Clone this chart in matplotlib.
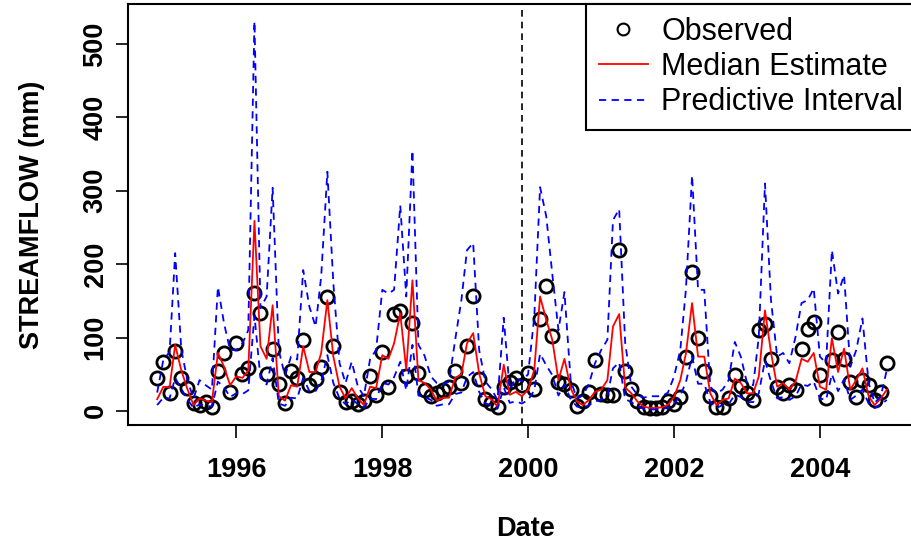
import numpy as np
import pandas as pd
import matplotlib
matplotlib.use("Agg")
import matplotlib.pyplot as plt
import matplotlib.dates as mdates
from matplotlib.lines import Line2D

plt.rcParams['font.family'] = ['Liberation Sans', 'DejaVu Sans']

# ---------------- data (monthly, Dec 1994 - Dec 2004) ----------------
start_month = "1994-12-01"
split_date = "1999-12-01"

observed = [45, 67, 25, 82, 45, 31, 11, 8, 12, 5, 55, 79, 26, 92, 50, 58, 161, 134, 50, 84,
            36, 11, 55, 45, 96, 35, 44, 60, 155, 88, 26, 12, 14, 10, 14, 48, 22, 80, 32, 132,
            136, 48, 120, 51, 29, 21, 24, 28, 33, 54, 38, 88, 156, 44, 16, 11, 5, 32, 40, 45,
            35, 51, 30, 125, 170, 102, 40, 37, 28, 7, 14, 26, 70, 23, 22, 22, 219, 55, 30, 14,
            5, 4, 4, 5, 13, 10, 19, 74, 190, 100, 54, 20, 5, 6, 18, 49, 34, 24, 15, 110,
            119, 71, 33, 24, 35, 29, 85, 111, 121, 49, 18, 70, 107, 71, 40, 19, 42, 35, 15, 26,
            65]

median = [16, 33, 32, 90, 55, 30, 8, 17, 14, 12, 79, 60, 35, 47, 45, 55, 259, 88, 71, 144,
          20, 14, 35, 33, 88, 53, 53, 79, 151, 74, 33, 17, 31, 17, 8, 33, 31, 76, 71, 92,
          133, 56, 178, 42, 38, 29, 14, 18, 18, 45, 50, 92, 106, 51, 20, 16, 6, 63, 22, 26,
          20, 29, 56, 156, 124, 97, 42, 71, 31, 13, 8, 15, 26, 29, 42, 115, 132, 32, 24, 13,
          6, 4, 4, 5, 8, 19, 42, 78, 147, 74, 74, 24, 8, 15, 17, 44, 38, 24, 24, 47,
          137, 80, 33, 38, 29, 40, 71, 67, 79, 33, 29, 99, 53, 85, 29, 42, 58, 20, 8, 17,
          29]

upper = [25, 70, 80, 215, 83, 42, 17, 42, 35, 29, 169, 119, 83, 83, 92, 110, 531, 140, 156, 304,
         82, 48, 74, 70, 192, 142, 115, 183, 326, 174, 65, 38, 67, 33, 20, 71, 83, 165, 160, 165,
         280, 156, 355, 90, 75, 47, 38, 36, 40, 97, 151, 219, 229, 83, 40, 30, 15, 127, 29, 45,
         40, 50, 128, 305, 265, 187, 110, 162, 42, 17, 21, 37, 65, 83, 97, 260, 275, 93, 33, 22,
         18, 20, 20, 20, 25, 47, 83, 165, 321, 165, 165, 33, 24, 29, 42, 94, 74, 38, 35, 101,
         310, 151, 74, 79, 65, 101, 147, 151, 167, 74, 65, 219, 160, 185, 60, 83, 126, 38, 11, 20,
         56]

lower = [8, 18, 17, 45, 30, 16, 4, 9, 7, 6, 40, 32, 19, 24, 23, 28, 130, 45, 36, 72,
         10, 7, 18, 17, 45, 27, 27, 40, 76, 38, 17, 9, 16, 9, 4, 17, 16, 38, 36, 46,
         67, 28, 90, 21, 19, 15, 7, 9, 9, 23, 25, 46, 53, 26, 10, 8, 3, 32, 11, 13,
         10, 15, 28, 78, 62, 49, 21, 36, 16, 6, 4, 8, 13, 15, 21, 58, 66, 16, 12, 6,
         3, 2, 2, 3, 4, 10, 21, 39, 74, 37, 37, 12, 4, 8, 9, 22, 19, 12, 12, 24,
         69, 40, 17, 19, 15, 20, 36, 34, 40, 17, 15, 50, 27, 43, 15, 21, 29, 10, 4, 9,
         15]

tick_years = [1996, 1998, 2000, 2002, 2004]
y_ticks = [0, 100, 200, 300, 400, 500]

# ---------------- plot ----------------
dates = pd.date_range(start_month, periods=len(observed), freq="MS")
xd = mdates.date2num(dates.to_pydatetime())

W, H = 912, 544
fig = plt.figure(figsize=(W / 100, H / 100), dpi=100)
ax = fig.add_axes([128 / W, 1 - 425 / H, 788 / W, 421 / H])

ax.plot(xd, observed, linestyle="none", marker="o", markersize=9.5,
        markerfacecolor="none", markeredgecolor="black", markeredgewidth=2.0, zorder=2)
ax.plot(xd, median, color="red", linewidth=1.3, zorder=3)
ax.plot(xd, upper, color="blue", linewidth=1.3, linestyle=(0, (4, 3)), zorder=4)
ax.plot(xd, lower, color="blue", linewidth=1.3, linestyle=(0, (4, 3)), zorder=4)

ax.axvline(mdates.date2num(pd.Timestamp(split_date).to_pydatetime()), color="black",
           linewidth=1.2, linestyle=(0, (4, 3)), zorder=1)

rng = xd.max() - xd.min()
ax.set_xlim(xd.min() - 0.04 * rng, xd.max() + 0.04 * rng)
ax.set_ylim(-19.2, 554.6)

ax.set_xticks([mdates.date2num(pd.Timestamp(f"{y}-01-01").to_pydatetime()) for y in tick_years])
ax.set_xticklabels([str(y) for y in tick_years])
ax.set_yticks(y_ticks)
ax.set_yticklabels([str(v) for v in y_ticks], rotation=90, va="center")

ax.tick_params(axis="both", length=9, width=1.2, labelsize=19.5, color="black")
ax.tick_params(axis="x", pad=14)
ax.tick_params(axis="y", pad=5)
for lab in ax.get_xticklabels() + ax.get_yticklabels():
    lab.set_fontweight("bold")

for side in ["left", "bottom", "top", "right"]:
    ax.spines[side].set_linewidth(1.5)

ax.set_xlabel("Date", fontsize=19.5, fontweight="bold")
ax.set_ylabel("STREAMFLOW (mm)", fontsize=19.5, fontweight="bold")
ax.xaxis.set_label_coords((525 - 128) / 788, (425 - 516) / 421)
ax.yaxis.set_label_coords((45 - 128) / 788, 0.5)

handles = [
    Line2D([], [], linestyle="none", marker="o", markersize=8.5, markerfacecolor="none",
           markeredgecolor="black", markeredgewidth=1.5),
    Line2D([], [], color="red", linewidth=1.3),
    Line2D([], [], color="blue", linewidth=1.3, linestyle=(0, (4, 3))),
]
leg = ax.legend(handles, ["Observed", "Median Estimate", "Predictive Interval"],
                loc="upper right", bbox_to_anchor=(1, 1), borderaxespad=0,
                fontsize=22, frameon=True, fancybox=False, framealpha=1,
                edgecolor="black", borderpad=0.42, handlelength=1.6,
                handletextpad=0.45, labelspacing=0.17)
leg.get_frame().set_linewidth(1.5)

fig.savefig("out.png", dpi=100)
